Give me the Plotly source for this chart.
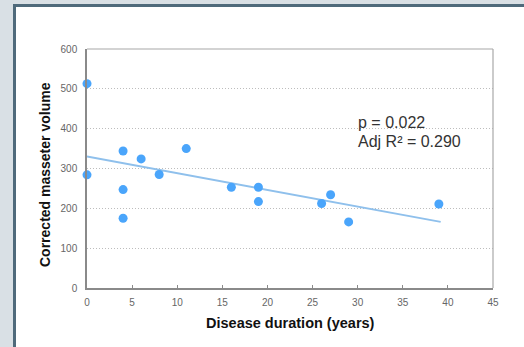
import plotly.graph_objects as go

# Data
duration_years = [0, 0, 4, 4, 4, 6, 8, 11, 16, 19, 19, 26, 27, 29, 39]
masseter_volume = [513, 284, 344, 247, 175, 324, 285, 350, 253, 253, 217, 212, 234, 166, 211]
trend_x = [0, 39.2]
trend_y = [330, 166]
x_ticks = [0, 5, 10, 15, 20, 25, 30, 35, 40, 45]
y_ticks = [0, 100, 200, 300, 400, 500, 600]
stats_lines = ["p = 0.022", "Adj R\u00b2 = 0.290"]
stats_y = [416, 367]

W, H = 524, 347
ml, mr, mt, mb = 87, 31, 49, 59
pw, ph = W - ml - mr, H - mt - mb

def px_x(p):
    return (p - ml) / pw

def px_y(p):
    return (H - mb - p) / ph

fig = go.Figure()
fig.add_trace(go.Scatter(x=trend_x, y=trend_y, mode="lines",
                         line=dict(color="#8fc0ec", width=2), hoverinfo="skip"))
fig.add_trace(go.Scatter(x=duration_years, y=masseter_volume, mode="markers",
                         marker=dict(color="#4aa5fb", size=9, line=dict(width=0)), cliponaxis=False))

# Panel with dark border
fig.add_shape(type="rect", xref="paper", yref="paper",
              x0=px_x(14.5), y0=px_y(400), x1=px_x(560), y1=px_y(5.5),
              fillcolor="white", line=dict(color="#4f6a7b", width=3), layer="below")

font_main = "Liberation Sans, Arial, Helvetica, sans-serif"

for txt, yv in zip(stats_lines, stats_y):
    fig.add_annotation(x=29.8, y=yv, xref="x", yref="y", text=txt, showarrow=False,
                       xanchor="left", yanchor="middle",
                       font=dict(family=font_main, size=16, color="#333333"))

fig.add_annotation(x=0.5, y=px_y(323), xref="paper", yref="paper",
                   text="<b>Disease duration (years)</b>", showarrow=False,
                   xanchor="center", yanchor="middle",
                   font=dict(family=font_main, size=14.5, color="#111111"))
fig.add_annotation(x=px_x(45), y=px_y(175), xref="paper", yref="paper",
                   text="<b>Corrected masseter volume</b>", showarrow=False, textangle=-90,
                   xanchor="center", yanchor="middle",
                   font=dict(family=font_main, size=14, color="#111111"))

fig.update_layout(
    width=W, height=H,
    margin=dict(l=ml, r=mr, t=mt, b=mb, pad=0),
    paper_bgcolor="#d9e0e5",
    plot_bgcolor="white",
    showlegend=False,
    font=dict(family=font_main),
)
fig.update_xaxes(range=[0, 45], tickvals=x_ticks, ticktext=[str(v) for v in x_ticks],
                 showgrid=False, zeroline=False, showline=True, linecolor="#8a8a8a", linewidth=1.5,
                 mirror=False, ticks="inside", ticklen=3, tickcolor="#8a8a8a",
                 tickfont=dict(size=10, color="#666666"), ticklabelstandoff=4, fixedrange=True)
fig.update_yaxes(range=[0, 600], tickvals=y_ticks, ticktext=[str(v) for v in y_ticks],
                 showgrid=True, gridcolor="#bdbdbd", griddash="1px,2px", gridwidth=1,
                 zeroline=False, showline=True, linecolor="#8a8a8a", linewidth=1.5,
                 ticks="", tickfont=dict(size=10, color="#666666"), ticklabelstandoff=6,
                 fixedrange=True)
# top and right frame
fig.add_shape(type="line", xref="paper", yref="paper", x0=0, x1=1, y0=1, y1=1,
              line=dict(color="#a8a8a8", width=1.2))
fig.add_shape(type="line", xref="paper", yref="paper", x0=1, x1=1, y0=0, y1=1,
              line=dict(color="#a8a8a8", width=1.2))

fig.write_html("out.html", config={"displayModeBar": False},
               post_script="document.body.style.margin='0';document.body.style.background='#d9e0e5';")
